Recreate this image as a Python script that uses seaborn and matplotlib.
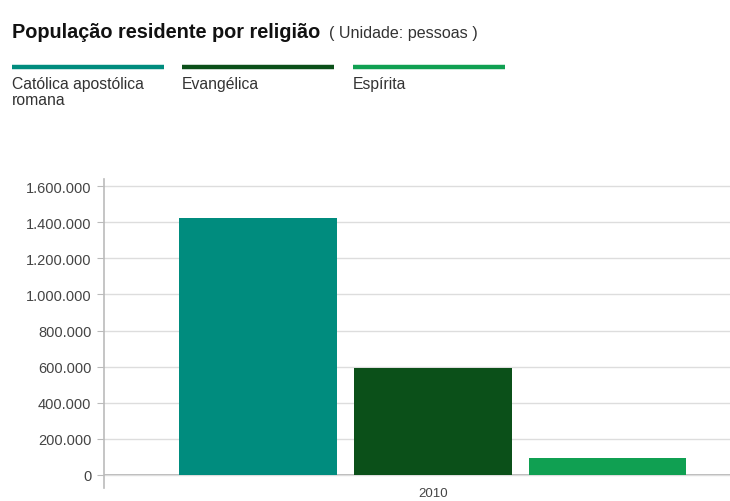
import matplotlib
matplotlib.use("Agg")
import matplotlib.pyplot as plt
import seaborn as sns
import pandas as pd
from matplotlib.ticker import FuncFormatter
from matplotlib.lines import Line2D

years = ["2010"]
religions = ["Católica apostólica romana", "Evangélica", "Espírita"]
legend_labels = ["Católica apostólica\nromana", "Evangélica", "Espírita"]
values = [1423000, 592000, 92000]
colors = ["#008C7E", "#0B5019", "#10A052"]
yticks = [0, 200000, 400000, 600000, 800000, 1000000, 1200000, 1400000, 1600000]

df = pd.DataFrame({"ano": years * len(religions), "religiao": religions, "pessoas": values})

sns.set_style("white")
plt.rcParams["font.family"] = ["Liberation Sans", "DejaVu Sans"]

fig = plt.figure(figsize=(7.3, 5.02), dpi=100)
ax = fig.add_axes([104 / 730, 13 / 502, 1 - 104 / 730, (489 - 180) / 502])

sns.barplot(data=df, x="ano", y="pessoas", hue="religiao", hue_order=religions,
            palette=colors, width=0.8, gap=0.1, ax=ax, legend=False,
            saturation=1, edgecolor="none")

ax.set_xlim(-0.5015, 0.453)
ax.set_ylim(-72000, 1639000)
ax.set_yticks(yticks)
ax.yaxis.set_major_formatter(FuncFormatter(lambda v, p: f"{int(v):,}".replace(",", ".")))
ax.set_xlabel("")
ax.set_ylabel("")
ax.grid(axis="y", color="#dddddd", linewidth=1)
ax.set_axisbelow(True)
ax.axhline(0, color="#aaaaaa", linewidth=1.2, zorder=0.5)
for s in ["top", "right", "bottom"]:
    ax.spines[s].set_visible(False)
ax.spines["left"].set_color("#bbbbbb")
ax.spines["left"].set_linewidth(1.2)
ax.tick_params(axis="y", left=True, length=5, color="#bbbbbb", labelsize=10.5,
               labelcolor="#444444", pad=4)
ax.tick_params(axis="x", bottom=False, labelsize=9.5, labelcolor="#444444", pad=-4)

# Title
fig.text(12 / 730, 1 - 33 / 502, "População residente por religião", fontsize=14.3,
         fontweight="bold", color="#111111", va="center", ha="left")
fig.text(329 / 730, 1 - 34 / 502, "( Unidade: pessoas )", fontsize=11.6,
         color="#333333", va="center", ha="left")

# Legend
starts = [12, 182, 353]
for x0, lab, c in zip(starts, legend_labels, colors):
    fig.add_artist(Line2D([x0 / 730, (x0 + 152) / 730], [1 - 68 / 502] * 2,
                          color=c, linewidth=3.2, solid_capstyle="butt"))
    fig.text(x0 / 730, 1 - 77 / 502, lab, fontsize=11.3, color="#333333",
             va="top", ha="left", linespacing=1.1)

fig.savefig("out.png", dpi=100)
